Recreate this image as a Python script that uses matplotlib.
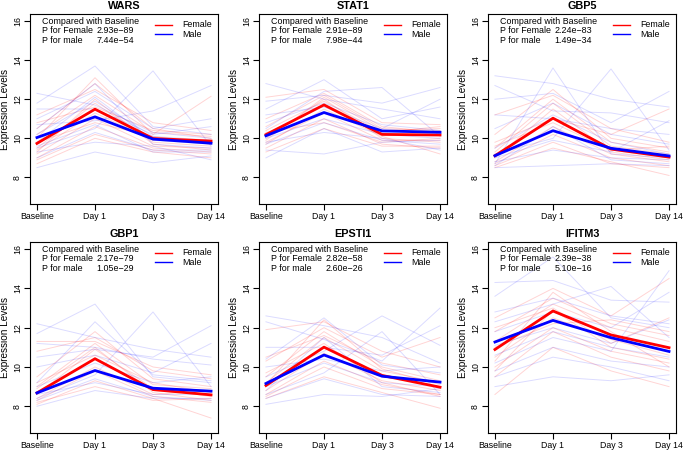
import matplotlib
matplotlib.use("Agg")
import matplotlib.pyplot as plt

plt.rcParams['font.family'] = ['Liberation Sans', 'DejaVu Sans']

timepoints = ["Baseline", "Day 1", "Day 3", "Day 14"]
genes = ["WARS", "STAT1", "GBP5", "GBP1", "EPSTI1", "IFITM3"]
p_female = ["2.93e\u221289", "2.91e\u221289", "2.24e\u221283", "2.17e\u221279", "2.82e\u221258", "2.39e\u221238"]
p_male = ["7.44e\u221254", "7.98e\u221244", "1.49e\u221234", "1.05e\u221229", "2.60e\u221226", "5.10e\u221216"]

mean_female = {
    "WARS":   [9.74, 11.49, 9.99, 9.86],
    "STAT1":  [10.19, 11.71, 10.20, 10.17],
    "GBP5":   [9.11, 11.03, 9.45, 9.04],
    "GBP1":   [8.68, 10.42, 8.85, 8.58],
    "EPSTI1": [9.06, 11.01, 9.57, 8.97],
    "IFITM3": [10.89, 12.85, 11.63, 10.98],
}
mean_male = {
    "WARS":   [10.04, 11.10, 9.96, 9.75],
    "STAT1":  [10.13, 11.32, 10.38, 10.31],
    "GBP5":   [9.11, 10.39, 9.49, 9.10],
    "GBP1":   [8.68, 9.82, 8.92, 8.77],
    "EPSTI1": [9.16, 10.61, 9.53, 9.23],
    "IFITM3": [11.27, 12.37, 11.49, 10.79],
}

wars_female_lines = [
    [9.7, 11.5, 10.0, 9.8], [9.2, 11.0, 9.6, 9.5], [10.2, 12.2, 10.3, 10.1],
    [9.0, 10.6, 9.5, 9.3], [10.5, 12.8, 10.5, 10.0], [9.5, 11.8, 9.8, 9.6],
    [8.9, 10.2, 9.4, 9.2], [10.0, 13.1, 10.2, 12.15], [9.4, 11.3, 9.9, 9.9],
    [11.2, 12.5, 10.8, 10.4], [9.8, 10.8, 10.1, 9.7], [9.3, 12.0, 9.7, 9.4],
    [10.8, 11.6, 10.4, 10.2], [8.7, 10.0, 9.3, 9.0],
]
wars_male_lines = [
    [10.0, 11.1, 10.0, 9.8], [12.3, 11.7, 10.3, 10.0], [11.8, 13.7, 10.6, 10.2],
    [9.5, 10.5, 13.45, 9.6], [10.5, 12.8, 9.7, 9.5], [8.5, 9.3, 8.75, 9.1],
    [10.7, 10.9, 11.4, 12.7], [9.8, 12.1, 9.9, 9.7], [11.5, 11.5, 10.2, 10.6],
    [9.0, 10.3, 9.4, 9.4], [10.2, 11.9, 10.1, 9.9], [9.3, 9.8, 9.6, 8.9],
    [11.0, 12.4, 10.5, 11.0], [9.6, 10.7, 9.3, 9.3],
]
stat1_female_lines = [
    [10.2, 11.7, 10.2, 10.2], [9.8, 11.3, 9.9, 9.9], [10.6, 12.2, 10.5, 10.4],
    [9.5, 11.0, 9.7, 9.5], [12.1, 12.5, 10.8, 10.7], [10.0, 12.0, 10.0, 9.8],
    [9.3, 10.5, 9.6, 9.6], [10.4, 11.9, 10.3, 10.6], [11.0, 12.3, 10.6, 10.3],
    [9.7, 11.5, 10.1, 9.2], [10.3, 10.8, 9.8, 10.0], [9.9, 12.1, 10.4, 10.5],
]
stat1_male_lines = [
    [10.1, 11.3, 10.4, 10.3], [12.8, 12.0, 11.5, 11.0], [11.5, 13.0, 11.0, 11.6],
    [9.0, 10.5, 9.3, 9.5], [10.5, 12.4, 12.6, 10.1], [9.4, 9.2, 9.8, 9.9],
    [11.9, 12.2, 11.8, 12.6], [10.0, 11.0, 10.2, 10.0], [10.8, 11.8, 10.7, 10.4],
    [9.7, 10.8, 9.9, 9.7], [11.2, 11.6, 10.5, 12.0], [9.8, 10.3, 10.0, 9.4],
]
gbp5_female_lines = [
    [9.1, 11.0, 9.5, 9.0], [8.7, 10.2, 9.0, 8.6], [9.5, 12.0, 9.8, 9.3],
    [8.5, 9.5, 8.8, 8.1], [10.2, 12.5, 10.0, 9.5], [9.0, 11.5, 9.3, 8.9],
    [9.8, 11.0, 10.2, 11.5], [8.8, 10.6, 9.2, 8.8], [11.2, 12.2, 10.5, 9.8],
    [9.3, 11.8, 9.6, 9.2], [8.6, 9.8, 8.7, 8.5], [9.6, 10.8, 9.4, 9.6],
]
gbp5_male_lines = [
    [9.1, 10.4, 9.5, 9.1], [13.2, 12.8, 12.0, 11.6], [12.7, 11.4, 11.3, 10.8],
    [8.7, 13.6, 9.2, 9.0], [9.2, 10.0, 13.55, 9.4], [8.5, 8.6, 8.7, 8.6],
    [12.0, 12.3, 10.8, 12.4], [9.5, 11.2, 9.8, 9.2], [8.8, 9.4, 9.0, 8.9],
    [10.5, 11.8, 10.2, 9.7], [9.0, 9.9, 9.3, 10.9], [11.2, 11.0, 10.5, 10.2],
    [8.6, 10.6, 8.9, 8.7],
]
gbp1_female_lines = [
    [8.7, 10.4, 8.8, 8.6], [8.3, 9.8, 8.5, 8.2], [9.0, 11.2, 9.1, 8.9],
    [8.1, 9.3, 8.4, 7.4], [9.5, 11.8, 9.4, 9.0], [8.6, 10.9, 8.9, 8.5],
    [10.8, 11.5, 9.8, 9.4], [8.4, 10.0, 8.6, 8.8], [9.2, 10.6, 9.2, 8.7],
    [8.9, 11.0, 8.7, 8.3], [11.3, 11.3, 10.0, 9.6], [8.2, 9.0, 8.3, 8.4],
]
gbp1_male_lines = [
    [8.7, 9.8, 8.9, 8.8], [12.2, 11.5, 10.9, 10.5], [11.7, 13.2, 9.5, 9.2],
    [8.4, 9.6, 12.8, 9.0], [10.5, 10.9, 10.5, 12.1], [8.0, 8.8, 8.4, 8.4],
    [9.2, 12.3, 9.6, 9.3], [8.6, 9.2, 8.6, 8.6], [10.0, 10.6, 9.7, 11.2],
    [9.0, 10.2, 9.2, 9.5], [8.3, 9.4, 8.5, 8.3], [11.2, 11.0, 10.4, 10.1],
]
epsti1_female_lines = [
    [9.0, 11.0, 9.6, 9.0], [8.6, 10.3, 9.1, 8.6], [9.5, 11.8, 10.0, 9.3],
    [8.4, 9.5, 8.7, 7.9], [11.9, 12.3, 10.8, 10.0], [9.2, 11.5, 9.8, 9.2],
    [8.8, 10.7, 9.3, 8.8], [10.3, 12.0, 10.5, 11.5], [9.7, 11.2, 9.2, 8.5],
    [8.5, 10.0, 8.9, 8.6], [10.5, 11.6, 10.2, 9.6], [9.1, 12.4, 9.9, 9.1],
]
epsti1_male_lines = [
    [9.2, 10.6, 9.5, 9.2], [12.6, 12.1, 11.5, 10.2], [12.3, 11.4, 10.3, 13.0],
    [8.1, 8.6, 8.5, 8.9], [9.5, 10.8, 12.6, 11.1], [10.4, 12.5, 10.1, 9.7],
    [8.6, 9.7, 11.8, 8.6], [11.0, 11.0, 10.6, 12.1], [9.0, 10.2, 9.2, 9.0],
    [8.8, 11.5, 9.0, 8.7], [10.0, 10.4, 9.8, 10.0], [8.4, 9.4, 8.6, 8.5],
]
ifitm3_female_lines = [
    [10.9, 12.8, 11.6, 11.0], [10.0, 12.0, 10.8, 10.2], [11.8, 13.5, 12.2, 11.6],
    [8.6, 11.0, 9.8, 9.0], [12.5, 14.0, 12.6, 14.5], [10.5, 12.5, 11.4, 10.6],
    [9.5, 11.8, 10.5, 9.8], [11.3, 13.2, 12.0, 11.3], [12.0, 13.0, 11.2, 12.5],
    [9.8, 12.9, 11.0, 10.4], [11.0, 12.2, 12.4, 11.8], [10.3, 13.8, 11.8, 10.0],
]
ifitm3_male_lines = [
    [11.3, 12.4, 11.5, 10.8], [14.3, 14.4, 13.4, 13.3], [13.6, 15.6, 12.5, 12.0],
    [9.0, 9.5, 9.3, 9.6], [12.3, 13.2, 14.1, 11.5], [10.2, 11.5, 10.8, 14.9],
    [11.8, 12.8, 12.0, 13.8], [9.8, 11.0, 10.3, 10.0], [12.8, 13.5, 12.6, 12.2],
    [10.6, 11.8, 11.0, 10.5], [11.1, 12.0, 11.2, 12.4], [9.5, 10.5, 10.0, 9.3],
]

female_lines = {"WARS": wars_female_lines, "STAT1": stat1_female_lines,
                "GBP5": gbp5_female_lines, "GBP1": gbp1_female_lines,
                "EPSTI1": epsti1_female_lines, "IFITM3": ifitm3_female_lines}
male_lines = {"WARS": wars_male_lines, "STAT1": stat1_male_lines,
              "GBP5": gbp5_male_lines, "GBP1": gbp1_male_lines,
              "EPSTI1": epsti1_male_lines, "IFITM3": ifitm3_male_lines}

W, H = 685, 451
fig = plt.figure(figsize=(W / 100, H / 100), dpi=100)

lefts = [30, 259, 488]
rows = [(14, 204), (242, 433)]
pw = 188
FS = 6.4

x = [1, 2, 3, 4]
for i, g in enumerate(genes):
    r, c = divmod(i, 3)
    top, bot = rows[r]
    ax = fig.add_axes([lefts[c] / W, 1 - bot / H, pw / W, (bot - top) / H])
    for ln in female_lines[g]:
        ax.plot(x, ln, color="red", alpha=0.17, lw=0.7)
    for ln in male_lines[g]:
        ax.plot(x, ln, color="blue", alpha=0.14, lw=0.7)
    ax.plot(x, mean_female[g], color="#FF0000", lw=2.0)
    ax.plot(x, mean_male[g], color="#0000FF", lw=2.0)
    ax.set_xlim(0.88, 4.12)
    ax.set_ylim(6.64, 16.36)
    ax.set_xticks(x)
    ax.set_xticklabels(timepoints, fontsize=6.3)
    ax.set_yticks([8, 10, 12, 14, 16])
    ax.set_yticklabels(["8", "10", "12", "14", "16"], fontsize=6.3, rotation=90, va="center")
    ax.tick_params(direction="out", length=4.2, width=0.8)
    ax.tick_params(axis="y", pad=1.5)
    ax.tick_params(axis="x", pad=1.2)
    for s in ax.spines.values():
        s.set_linewidth(0.8)
    ax.set_ylabel("Expression Levels", fontsize=7.2, labelpad=2)
    ax.set_title(g, fontsize=7.8, fontweight="bold", pad=3.5)
    # annotations
    ax.text(1.08, 16.0, "Compared with Baseline", fontsize=FS, va="center", ha="left")
    ax.text(1.08, 15.5, "P for Female", fontsize=FS, va="center", ha="left")
    ax.text(1.08, 15.0, "P for male", fontsize=FS, va="center", ha="left")
    ax.text(2.03, 15.5, p_female[i], fontsize=FS, va="center", ha="left")
    ax.text(2.03, 15.0, p_male[i], fontsize=FS, va="center", ha="left")
    ax.plot([3.03, 3.33], [15.82, 15.82], color="#FF0000", lw=1.0)
    ax.plot([3.03, 3.33], [15.32, 15.32], color="#0000FF", lw=1.0)
    ax.text(3.5, 15.82, "Female", fontsize=FS, va="center", ha="left")
    ax.text(3.5, 15.32, "Male", fontsize=FS, va="center", ha="left")

fig.savefig("out.png", dpi=100)
